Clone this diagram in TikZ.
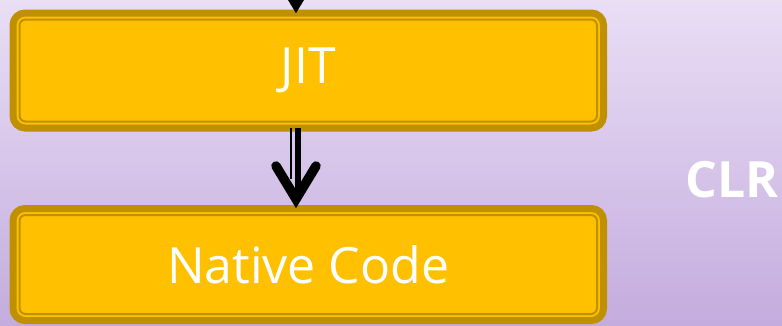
\documentclass[tikz,border=0pt]{standalone}
\usepackage{fontspec}
\setmainfont{Open Sans}
\usetikzlibrary{calc}
\definecolor{boxfill}{HTML}{FFC000}
\definecolor{boxedge}{HTML}{BF9000}
\definecolor{bgtop}{RGB}{234,222,245}
\definecolor{bgbot}{RGB}{196,172,222}
\tikzset{
  stagebox/.style={rectangle, rounded corners=12pt, fill=boxfill, draw=boxedge,
    line width=7pt, inner sep=0pt, outer sep=0pt, minimum width=590.5pt,
    text=white, font=\fontsize{50}{60}\selectfont},
  innerline/.style={draw=boxedge, line width=2pt, rounded corners=6pt},
  vhead/.style={line width=9.5pt, line cap=round, line join=miter, draw=black},
  shaft/.style={draw=black},
  sidelabel/.style={text=white, font=\bfseries\fontsize{50}{60}\selectfont},
}
\begin{document}
\begin{tikzpicture}[x=1pt,y=-1pt]
\useasboundingbox (0,0) rectangle (782,325);
\shade[top color=bgtop, bottom color=bgbot] (0,0) rectangle (782,325);
\begin{scope}
\clip (0,0) rectangle (782,325);
\node[stagebox, minimum height=115pt] (jit) at (308.25,70.5) {JIT};
\node[stagebox, minimum height=112pt] (native) at (308.25,264.5) {Native Code};
\draw[innerline] ($(jit.south west)+(6.5,-6.5)$) rectangle ($(jit.north east)+(-6.5,6.5)$);
\draw[innerline] ($(native.south west)+(6.5,-6.5)$) rectangle ($(native.north east)+(-6.5,6.5)$);
% arrow into JIT (only head visible)
\coordinate (tip1) at ($(jit.north)+(-12.25,-9)$);
\draw[vhead] ($(tip1)+(-20,-33)$) -- (tip1) -- ($(tip1)+(20,-33)$);
% arrow JIT -> Native Code
\coordinate (tip2) at ($(native.north)+(-12.25,-9.5)$);
\draw[shaft, line width=6pt] ([xshift=-10.25pt]jit.south) -- ($(tip2)+(2,0)$);
\draw[shaft, line width=2pt] ([xshift=-17.25pt]jit.south) -- ($(tip2)+(-5,-20)$);
\draw[vhead] ($(tip2)+(-20,-33)$) -- (tip2) -- ($(tip2)+(20,-33)$);
\end{scope}
\node[sidelabel] (clr) at (732,180) {CLR};
\end{tikzpicture}
\end{document}
